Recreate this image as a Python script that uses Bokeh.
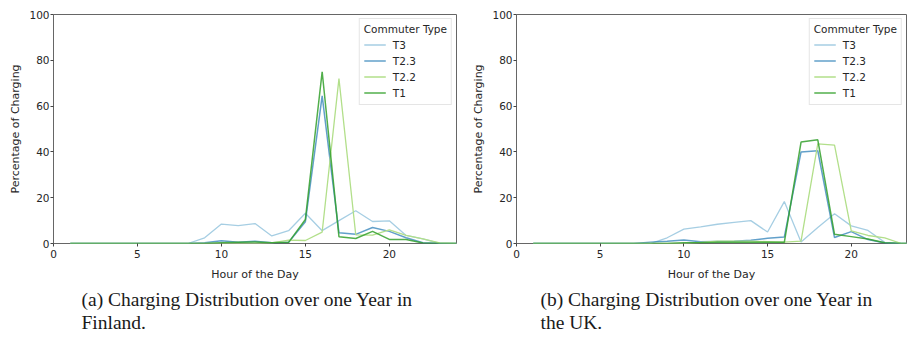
from bokeh.plotting import figure
from bokeh.layouts import row
from bokeh.models import Range1d, Title, Legend, LegendItem
from bokeh.embed import file_html
from bokeh.resources import INLINE

hours = list(range(1, 25))
series_names = ["T3", "T2.3", "T2.2", "T1"]
x_ticks = [0, 5, 10, 15, 20]
y_ticks = [0, 20, 40, 60, 80, 100]

# Finland
fi_t3 = [0, 0, 0, 0, 0, 0, 0, 0, 2.5, 8.5, 7.8, 8.7, 3.3, 5.6, 13.2, 5.6, 10.0, 14.3, 9.6, 9.9, 3.5, 2.0, 0, 0]
fi_t23 = [0, 0, 0, 0, 0, 0, 0, 0, 0.3, 1.2, 0.5, 1.0, 0.3, 0.5, 9.5, 64.5, 4.7, 4.0, 7.0, 5.3, 2.5, 0.3, 0, 0]
fi_t22 = [0, 0, 0, 0, 0, 0, 0, 0, 0, 0, 0, 0, 0.3, 1.5, 1.3, 5.0, 72.0, 3.8, 3.7, 6.0, 3.5, 2.0, 0.3, 0]
fi_t1 = [0, 0, 0, 0, 0, 0, 0, 0, 0, 0.3, 0.5, 0.7, 0.3, 0.5, 10.5, 75.0, 3.0, 2.2, 5.3, 1.8, 1.7, 0.2, 0, 0]

# UK
uk_t3 = [0, 0, 0, 0, 0, 0, 0, 0, 2.5, 6.3, 7.3, 8.4, 9.2, 10.0, 5.0, 18.3, 0.7, 7.0, 13.0, 7.7, 5.7, 0.5, 0, 0]
uk_t23 = [0, 0, 0, 0, 0, 0, 0, 0.6, 1.0, 1.5, 0.8, 0.9, 1.0, 1.4, 2.3, 2.8, 40.0, 40.5, 2.6, 5.2, 1.7, 0.2, 0, 0]
uk_t22 = [0, 0, 0, 0, 0, 0, 0, 0, 0, 0, 0.5, 1.0, 1.0, 1.0, 0.8, 0.6, 1.0, 43.5, 43.0, 5.5, 3.5, 2.5, 0, 0]
uk_t1 = [0, 0, 0, 0, 0, 0, 0, 0, 0, 0.3, 0.3, 0.5, 0.5, 0.5, 0.6, 0.5, 44.3, 45.3, 4.0, 3.0, 2.0, 0.3, 0, 0]

caption_a = "(a) Charging Distribution over one Year in\nFinland."
caption_b = "(b) Charging Distribution over one Year in\nthe UK."

colors = ["#a6cee3", "#1f78b4", "#b2df8a", "#33a02c"]
alphas = [1.0, 0.7, 1.0, 0.85]
widths = [1.3, 1.5, 1.3, 1.5]

SANS = "DejaVu Sans"
TXT = "#262626"


def panel(series, caption, width, bl, br, x_end, cap_offset):
    p = figure(width=width, height=338, x_range=Range1d(0, x_end), y_range=Range1d(0, 100),
               output_backend="svg", toolbar_location=None,
               min_border_left=bl, min_border_right=br, min_border_top=14, min_border_bottom=95)
    items = []
    for name, ys, c, a, w in zip(series_names, series, colors, alphas, widths):
        r = p.line(hours, ys, line_color=c, line_alpha=a, line_width=w)
        items.append(LegendItem(label=name, renderers=[r]))
    leg = Legend(items=items, location="top_right", title="Commuter Type",
                 title_text_font=SANS, title_text_font_size="10.5px", title_text_font_style="normal",
                 title_text_color=TXT, title_standoff=2,
                 label_text_font=SANS, label_text_font_size="10.5px", label_text_color=TXT,
                 label_height=15, glyph_height=15, glyph_width=22, label_standoff=7, spacing=1,
                 padding=4, margin=4, border_line_color="#cccccc", border_line_width=1,
                 background_fill_alpha=0.85)
    p.add_layout(leg)
    p.xgrid.visible = False
    p.ygrid.visible = False
    p.outline_line_color = "#666666"
    p.outline_line_width = 1
    p.outline_line_alpha = 1
    p.xaxis.ticker = x_ticks
    p.yaxis.ticker = y_ticks
    for ax in (p.xaxis[0], p.yaxis[0]):
        ax.axis_line_color = None
        ax.minor_tick_line_color = None
        ax.major_tick_in = 0
        ax.major_tick_out = 3
        ax.major_tick_line_color = "#444444"
        ax.major_label_text_font = SANS
        ax.major_label_text_font_size = "10.5px"
        ax.major_label_text_color = TXT
        ax.axis_label_text_font = SANS
        ax.axis_label_text_font_size = "11px"
        ax.axis_label_text_font_style = "normal"
        ax.axis_label_text_color = TXT
    p.xaxis.major_label_standoff = 3
    p.yaxis.major_label_standoff = 1
    p.xaxis.axis_label_standoff = 7
    p.yaxis.axis_label_standoff = 4
    p.xaxis.axis_label = "Hour of the Day"
    p.yaxis.axis_label = "Percentage of Charging"
    t = Title(text=caption, align="left", offset=cap_offset, text_font="Liberation Serif",
              text_font_size="19.5px", text_font_style="normal", text_color="#1a1a1a",
              text_line_height=1.1, standoff=8)
    p.add_layout(t, "below")
    return p


p1 = panel([fi_t3, fi_t23, fi_t22, fi_t1], caption_a, 465, 53, 9, 24, 28)
p2 = panel([uk_t3, uk_t23, uk_t22, uk_t1], caption_b, 444, 51, 3, 23.3, 24)
layout = row(p1, p2)
open("out.html", "w").write(file_html(layout, INLINE))
